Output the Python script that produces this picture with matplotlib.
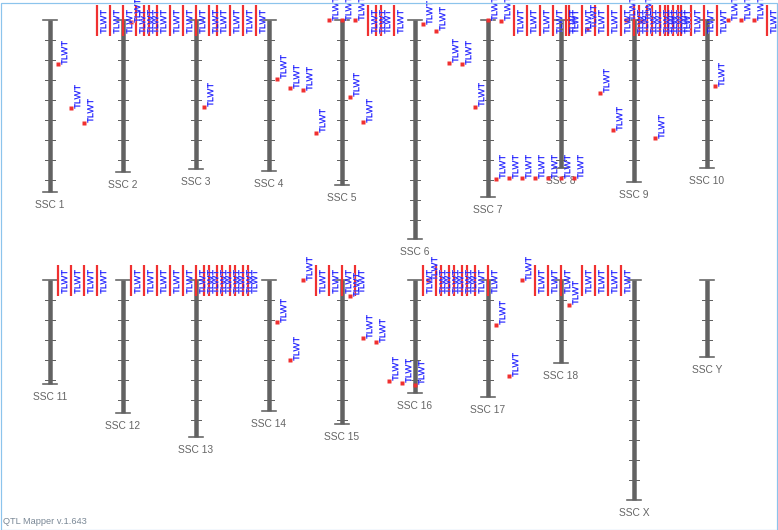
import matplotlib
matplotlib.use("Agg")
import matplotlib.pyplot as plt
from matplotlib.patches import Rectangle

# ---------------- data ----------------
chrom_names = ['SSC 1', 'SSC 2', 'SSC 3', 'SSC 4', 'SSC 5', 'SSC 6', 'SSC 7', 'SSC 8', 'SSC 9', 'SSC 10',
               'SSC 11', 'SSC 12', 'SSC 13', 'SSC 14', 'SSC 15', 'SSC 16', 'SSC 17', 'SSC 18', 'SSC X', 'SSC Y']
chrom_lengths = [172, 152, 149, 151, 165, 219, 177, 148, 162, 148,
                 104, 133, 157, 131, 144, 113, 117, 83, 220, 77]

trait = 'TLWT'
# QTLs per chromosome in drawing order: a number = peak position (cM), None = interval QTL
I = None
qtl_positions = [
    [44, 88, 103, I, I, I, I, I],                              # SSC 1
    [2, I, I, I, I, I, I],                                      # SSC 2
    [87, I, I, I, I],                                           # SSC 3
    [59, 68, 70, 113, 0, 0, 0, I, I, I],                        # SSC 4
    [77, 102, I],                                               # SSC 5
    [4, 11, 43, 44, 87, 0, 1, I, I, I, I, I],                   # SSC 6
    [159, 158, 158, 158, 158, 158, 158, 9, 73, 110, 0,
     I, I, I, I, I, I, I],                                      # SSC 7
    [I, I, I, I, I, I, I, I, I],                                # SSC 8
    [1, 118, I, I],                                             # SSC 9
    [66, 0, 0, 0, I],                                           # SSC 10
    [I, I, I, I],                                               # SSC 11
    [I, I, I, I, I, I, I, I, I, I],                             # SSC 12
    [I, I, I, I],                                               # SSC 13
    [42, 80, 0, I, I, I, I],                                    # SSC 14
    [16, 58, 62, 101, 103, 105, 0, I, I, I],                    # SSC 15
    [I, I, I, I, I, I],                                         # SSC 16
    [45, 96, 0, I, I, I],                                       # SSC 17
    [25, I, I, I, I],                                           # SSC 18
    [],                                                         # SSC X
    [],                                                         # SSC Y
]
interval_start = -15
interval_end = 16

# ---------------- style ----------------
W, H = 778, 530
chrom_color = '#626262'
label_color = '#666666'
qtl_red = '#f03030'
qtl_blue = '#1010ff'
qtl_shadow = '#a0a0ff'
font = ['Liberation Sans', 'DejaVu Sans']
qtl_fs = 6.8

fig = plt.figure(figsize=(W / 100, H / 100), dpi=100)
ax = fig.add_axes([0, 0, 1, 1])
ax.set_xlim(0, W)
ax.set_ylim(H, 0)
ax.axis('off')

PT = 72 / 100  # points per pixel

row_tops = [20, 280]
x0, dx = 50, 73
col_off, col_step = 8, 13


def qtl_label(x, y, va):
    ax.text(x + 1.0, y, trait, color=qtl_shadow, fontsize=qtl_fs, family=font,
            rotation=90, ha='left', va=va, zorder=5)
    ax.text(x, y, trait, color=qtl_blue, fontsize=qtl_fs, family=font,
            rotation=90, ha='left', va=va, zorder=5)


for i, (name, length) in enumerate(zip(chrom_names, chrom_lengths)):
    row, col = divmod(i, 10)
    top = row_tops[row]
    cx = x0 + dx * col
    bottom = top + length
    # chromosome bar
    ax.plot([cx, cx], [top, bottom], color=chrom_color, lw=4.5 * PT, solid_capstyle='butt', zorder=2)
    ax.plot([cx - 7, cx + 7], [top, top], color=chrom_color, lw=1.6 * PT, zorder=2)
    ax.plot([cx - 7, cx + 7], [bottom, bottom], color=chrom_color, lw=1.6 * PT, zorder=2)
    t = 20
    while t < length - 3:
        ax.plot([cx - 5, cx + 5], [top + t, top + t], color=chrom_color, lw=1.0 * PT, zorder=2)
        t += 20
    ax.text(cx, bottom + 16, name, color=label_color, fontsize=7.4, family=font,
            ha='center', va='baseline', zorder=3)

    # QTLs
    for k, pos in enumerate(qtl_positions[i]):
        qx = cx + col_off + col_step * k
        if pos is None:
            ax.plot([qx, qx], [top + interval_start, top + interval_end], color=qtl_red,
                    lw=2.2 * PT, solid_capstyle='butt', zorder=4)
            mid = top + (interval_start + interval_end) / 2
            qtl_label(qx + 2.4, mid, 'center')
        else:
            qy = top + pos
            ax.plot([qx], [qy], marker='s', ms=2.3, color=qtl_red, mec='none', zorder=4)
            qtl_label(qx + 2.4, qy - 0.5, 'bottom')

ax.text(3, 521, 'QTL Mapper v.1.643', color='#7a8896', fontsize=6.7, family=font,
        ha='left', va='center')

fig.patches.append(Rectangle((0.5 / W, 0.5 / H), 1 - 1.5 / W, 1 - 3 / H, transform=fig.transFigure,
                             fill=False, edgecolor='#8cc4ec', lw=1.2 * PT))

fig.savefig('out.png', dpi=100)
